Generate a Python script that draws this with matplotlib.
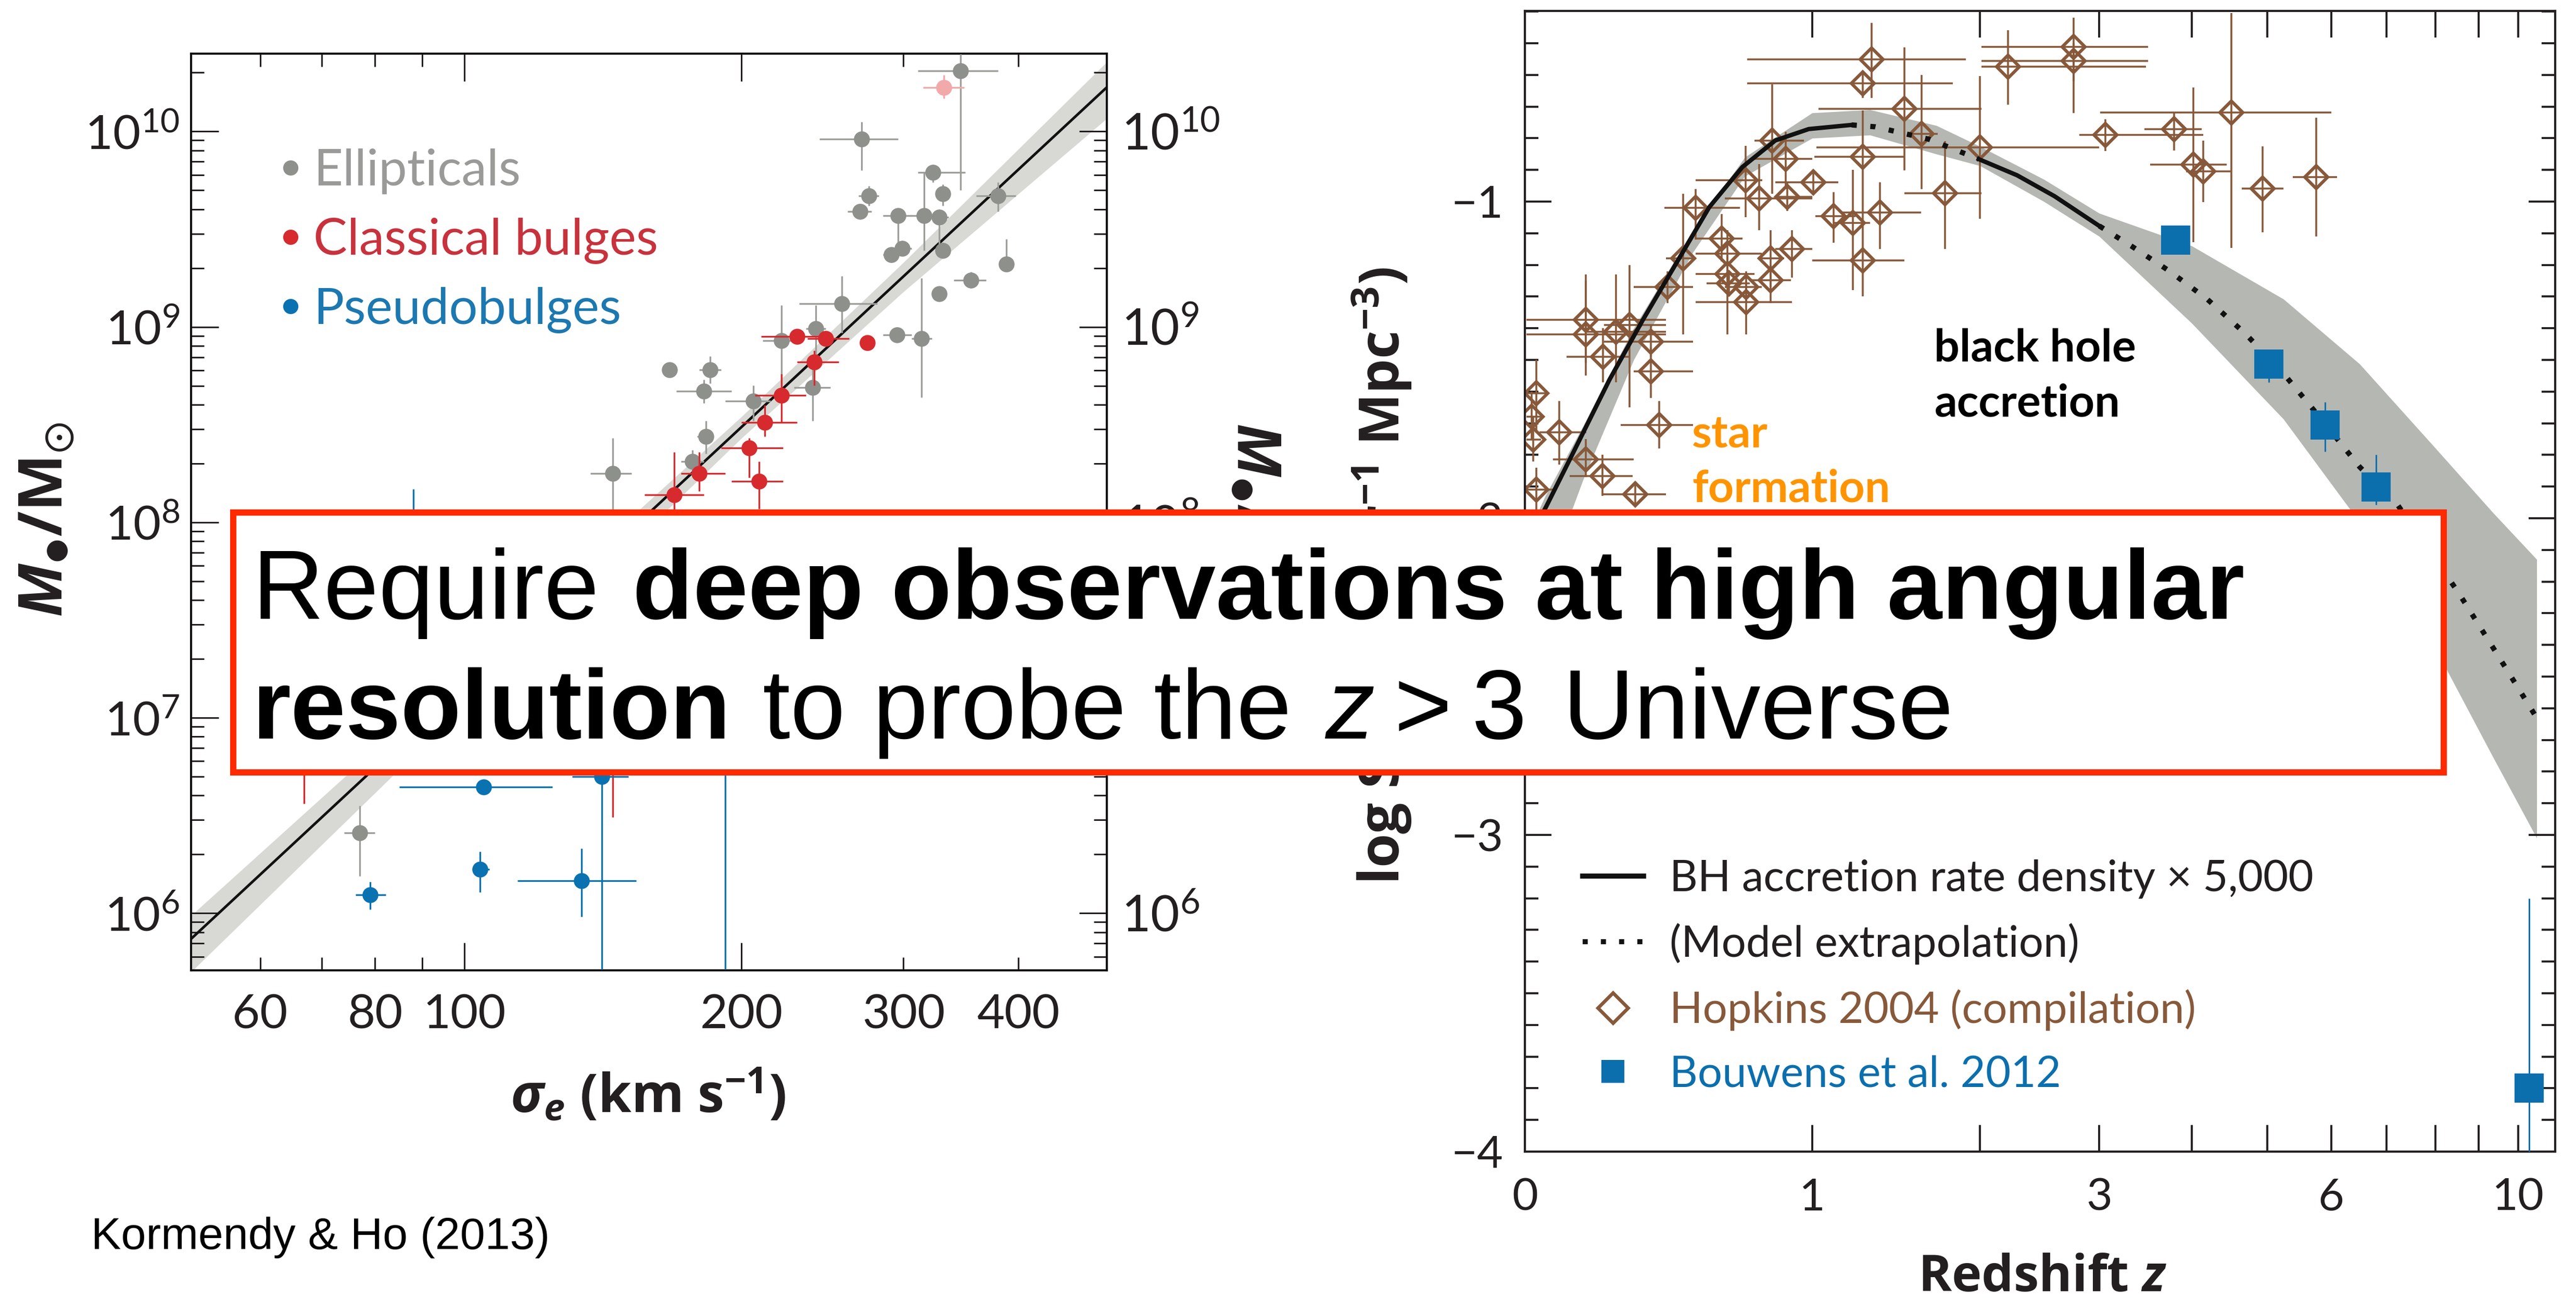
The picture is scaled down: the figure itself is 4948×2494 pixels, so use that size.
#!/usr/bin/env python
import numpy as np
import matplotlib
matplotlib.use('Agg')
import matplotlib.pyplot as plt
from matplotlib.lines import Line2D
from matplotlib.patches import Rectangle
from matplotlib.ticker import LogLocator, MultipleLocator, NullFormatter

plt.rcParams['font.family'] = ['Lato', 'DejaVu Sans']
plt.rcParams['mathtext.fontset'] = 'custom'
plt.rcParams['mathtext.rm'] = 'Lato'
plt.rcParams['mathtext.it'] = 'Lato:italic'
plt.rcParams['mathtext.bf'] = 'Open Sans:bold'
plt.rcParams['mathtext.bfit'] = 'Open Sans:italic:bold'
plt.rcParams['mathtext.fallback'] = 'stix'

# ---------------- left panel: M_BH vs sigma_e (Kormendy & Ho 2013) ----------------
ell_sigma = [346, 270, 323, 275, 331, 269, 296, 316, 328, 380,
             299, 291, 331, 388, 355, 328, 295, 314, 257, 241,
             221, 167, 185, 182, 239, 206, 183, 177, 145, 77]
ell_logm = [10.31, 9.96, 9.79, 9.67, 9.68, 9.59, 9.57, 9.57, 9.56, 9.67,
            9.40, 9.37, 9.39, 9.32, 9.24, 9.17, 8.96, 8.94, 9.12, 8.99,
            8.93, 8.78, 8.78, 8.67, 8.69, 8.62, 8.44, 8.31, 8.25, 6.41]
ell_sig_lo = [311, 243, 311, 268, 326, 261, 285, 305, 320, 360,
              292, 285, 325, 382, 340, 322, 285, 306, 231, 235,
              211, 167, 180, 170, 228, 192, 179, 172, 137, 74]
ell_sig_hi = [380, 296, 350, 282, 336, 277, 306, 326, 336, 397,
              306, 297, 336, 394, 369, 334, 306, 322, 281, 247,
              232, 167, 190, 195, 250, 215, 186, 182, 152, 80]
ell_logm_lo = [9.70, 9.80, 9.74, 9.62, 9.62, 9.56, 9.40, 9.39, 9.40, 9.59,
               9.37, 9.33, 9.36, 9.29, 9.20, 9.14, 8.93, 8.64, 8.97, 8.84,
               8.70, 8.78, 8.71, 8.61, 8.52, 8.52, 8.35, 8.25, 8.00, 6.19]
ell_logm_hi = [10.40, 10.05, 9.83, 9.72, 9.73, 9.62, 9.60, 9.79, 9.60, 9.74,
               9.44, 9.40, 9.43, 9.45, 9.28, 9.20, 9.00, 9.25, 9.26, 9.11,
               9.11, 8.78, 8.85, 8.73, 8.80, 8.70, 8.52, 8.37, 8.43, 6.55]

pink_sigma = [332]
pink_logm = [10.225]
pink_sig_lo = [315]
pink_sig_hi = [349]
pink_logm_lo = [10.17]
pink_logm_hi = [10.29]

cb_sigma = [230, 247, 274, 240, 221, 212, 204, 209, 180, 169, 67, 145]
cb_logm = [8.95, 8.94, 8.92, 8.82, 8.65, 8.51, 8.38, 8.21, 8.25, 8.14, 7.10, 7.00]
cb_sig_lo = [210, 236, 274, 230, 207, 200, 190, 195, 172, 157, 64, 139]
cb_sig_hi = [247, 262, 274, 255, 235, 230, 222, 222, 192, 182, 70, 151]
cb_logm_lo = [8.93, 8.91, 8.92, 8.70, 8.51, 8.44, 8.23, 8.07, 8.16, 8.05, 6.56, 6.49]
cb_logm_hi = [8.98, 8.97, 8.92, 8.88, 8.76, 8.60, 8.43, 8.31, 8.36, 8.36, 7.50, 7.40]

pb_sigma = [105, 141, 79, 104, 134, 88, 192]
pb_logm = [6.645, 6.70, 6.095, 6.225, 6.165, 7.40, 7.10]
pb_sig_lo = [85, 131, 76.2, 102, 114.3, 86, 186]
pb_sig_hi = [124.6, 150.7, 82.2, 106.5, 153.8, 90, 198]
pb_logm_lo = [6.62, 5.60, 6.02, 6.107, 5.983, 7.20, 5.60]
pb_logm_hi = [6.67, 7.00, 6.16, 6.316, 6.332, 8.17, 7.30]

fit_sigma = [50, 500]
fit_logm = [5.85, 10.23]
fitband_sigma = [50, 100, 200, 300, 500]
fitband_lo = [5.68, 7.06, 8.43, 9.18, 10.07]
fitband_hi = [5.97, 7.25, 8.54, 9.33, 10.36]

# ---------------- right panel: star formation / BH accretion history ----------------
hop_z = [1.31, 1.26, 2.21, 1.50, 0.816, 1.605, 2.00, 1.26, 0.876, 0.883,
         0.703, 0.759, 1.005, 0.51, 1.107, 1.207, 1.357, 1.755, 1.26, 0.607,
         0.630, 0.630, 0.636, 0.706, 0.706, 0.809, 0.809, 0.905, 0.465, 0.411,
         0.355, 0.355, 0.383, 0.287, 0.246, 0.158, 0.158, 0.207, 0.028, 0.016,
         0.020, 0.086, 0.158, 0.205, 0.305, 0.028, 2.76, 2.76, 3.06, 3.79,
         4.50, 4.02, 4.14, 4.93, 5.75]
hop_v = [-0.551, -0.627, -0.574, -0.708, -0.808, -0.787, -0.829, -0.858, -0.866, -0.986,
         -0.932, -0.991, -0.939, -1.020, -1.046, -1.067, -1.034, -0.974, -1.186, -1.117,
         -1.165, -1.228, -1.259, -1.269, -1.317, -1.180, -1.249, -1.149, -1.180, -1.269,
         -1.443, -1.537, -1.705, -1.390, -1.411, -1.374, -1.420, -1.490, -1.605, -1.679,
         -1.752, -1.729, -1.815, -1.867, -1.925, -1.909, -0.511, -0.556, -0.790, -0.772,
         -0.718, -0.884, -0.905, -0.959, -0.923]
hop_z_lo = [0.71, 0.71, 2.01, 1.03, 0.74, 1.52, 1.02, 1.01, 0.74, 0.83,
            0.51, 0.62, 0.83, 0.40, 1.016, 1.107, 1.15, 1.50, 1.00, 0.51,
            0.51, 0.51, 0.55, 0.62, 0.51, 0.76, 0.72, 0.83, 0.405, 0.30,
            0.21, 0.30, 0.26, 0.21, 0.16, 0.004, 0.004, 0.105, 0.004, 0.004,
            0.004, 0.036, 0.070, 0.114, 0.207, 0.004, 2.01, 2.01, 2.81, 3.46,
            3.01, 3.52, 3.93, 4.64, 5.38]
hop_z_hi = [1.90, 1.81, 3.48, 2.01, 0.96, 1.71, 3.00, 1.50, 1.00, 1.00,
            0.773, 1.00, 1.13, 0.68, 1.22, 1.30, 1.60, 2.01, 1.50, 0.69,
            0.77, 0.74, 0.72, 0.77, 0.905, 0.87, 0.90, 1.00, 0.51, 0.50,
            0.50, 0.50, 0.50, 0.405, 0.405, 0.405, 0.405, 0.287, 0.053, 0.040,
            0.040, 0.159, 0.300, 0.297, 0.405, 0.070, 3.50, 3.50, 4.14, 4.12,
            6.00, 4.44, 4.51, 5.24, 6.10]
hop_v_lo = [-0.672, -0.672, -0.694, -0.902, -0.975, -0.960, -1.054, -1.039, -0.960, -1.030,
            -1.050, -1.091, -0.970, -1.120, -1.130, -1.280, -1.150, -1.150, -1.300, -1.190,
            -1.250, -1.420, -1.300, -1.320, -1.420, -1.270, -1.320, -1.240, -1.420, -1.320,
            -1.490, -1.620, -1.780, -1.650, -1.570, -1.510, -1.550, -1.570, -1.730, -1.750,
            -1.820, -1.830, -1.870, -1.930, -1.960, -1.980, -0.720, -0.620, -0.840, -0.839,
            -1.146, -1.128, -1.001, -1.097, -1.110]
hop_v_hi = [-0.436, -0.590, -0.459, -0.514, -0.630, -0.600, -0.604, -0.713, -0.780, -0.940,
            -0.824, -0.881, -0.900, -0.960, -0.970, -0.900, -0.940, -0.810, -1.040, -1.040,
            -1.090, -1.170, -1.220, -1.220, -1.250, -1.090, -1.200, -1.090, -0.976, -1.220,
            -1.390, -1.460, -1.630, -1.200, -1.230, -1.230, -1.250, -1.400, -1.500, -1.600,
            -1.680, -1.630, -1.750, -1.800, -1.890, -1.840, -0.420, -0.500, -0.740, -0.718,
            -0.405, -0.640, -0.808, -0.826, -0.736]

bou_z = [3.81, 5.02, 5.90, 6.80, 10.29]
bou_v = [-1.122, -1.513, -1.706, -1.902, -3.80]
bou_v_lo = [-1.15, -1.57, -1.79, -1.958, -4.10]
bou_v_hi = [-1.09, -1.47, -1.633, -1.80, -3.20]

# BH accretion rate density x 5000 (solid where measured, dotted = model)
bh_z_a = [0.0, 0.053, 0.132, 0.226, 0.329, 0.44, 0.56, 0.69, 0.83, 0.984, 1.2]
bh_v_a = [-2.09, -1.962, -1.773, -1.563, -1.374, -1.196, -1.018, -0.891, -0.807, -0.771, -0.758]
bh_z_b = [1.2, 1.33, 1.65, 1.99]
bh_v_b = [-0.758, -0.764, -0.803, -0.866]
bh_z_c = [1.99, 2.28, 2.59, 3.0]
bh_v_c = [-0.866, -0.917, -0.983, -1.077]
bh_z_d = [3.0, 3.32, 3.73, 4.19, 4.69, 5.24, 5.84, 6.5, 7.22, 8.52, 9.45, 10.47]
bh_v_d = [-1.077, -1.140, -1.218, -1.308, -1.417, -1.543, -1.688, -1.838, -1.958, -2.235, -2.429, -2.625]

# star formation band
band_z = [0.0, 0.05, 0.15, 0.3, 0.5, 0.7, 1.0, 1.3, 1.7, 2.0, 2.5, 3.0, 4.0, 5.24, 6.5, 8.0, 9.35, 10.5]
band_hi = [-2.07, -1.93, -1.71, -1.40, -1.09, -0.86, -0.72, -0.71, -0.76, -0.826, -0.93, -1.037,
           -1.14, -1.308, -1.513, -1.778, -1.983, -2.13]
band_lo = [-2.45, -2.20, -1.88, -1.50, -1.16, -0.92, -0.80, -0.79, -0.85, -0.887, -1.00, -1.11,
           -1.384, -1.687, -2.013, -2.41, -2.755, -3.01]

ink = '#231f20'
gray = '#8e908b'
red = '#d62a2f'
blue = '#0a72b0'
brown = '#87593a'
sq_blue = '#0b6fae'


def mbh_points(ax, sig, logm, slo, shi, mlo, mhi, color, ecolor, z):
    sig = np.array(sig, float)
    m = 10.0 ** np.array(logm)
    xerr = [sig - np.array(slo), np.array(shi) - sig]
    yerr = [m - 10.0 ** np.array(mlo), 10.0 ** np.array(mhi) - m]
    ax.errorbar(sig, m, xerr=xerr, yerr=yerr, fmt='o', ms=11, color=color, mew=0,
                ecolor=ecolor, elinewidth=1.2, capsize=0, zorder=z)


def z_fwd(z):
    return np.log10(np.clip(1.0 + np.asarray(z, float), 1e-6, None))


def z_inv(u):
    return 10.0 ** np.asarray(u, float) - 1.0


fig = plt.figure(figsize=(24.74, 12.47), dpi=200)

# ---- left panel ----
ax1 = fig.add_axes([0.0742, 0.2530, 0.3555, 0.7057])
ax1.set_xscale('log')
ax1.set_yscale('log')
ax1.fill_between(fitband_sigma, 10.0 ** np.array(fitband_lo), 10.0 ** np.array(fitband_hi),
                 color='#d8d9d4', lw=0, zorder=1)
ax1.plot(fit_sigma, 10.0 ** np.array(fit_logm), color='#111111', lw=1.8, zorder=2)
mbh_points(ax1, ell_sigma, ell_logm, ell_sig_lo, ell_sig_hi, ell_logm_lo, ell_logm_hi,
           gray, '#9c9e9a', 3)
mbh_points(ax1, pink_sigma, pink_logm, pink_sig_lo, pink_sig_hi, pink_logm_lo, pink_logm_hi,
           '#f2a9aa', '#f2a9aa', 3)
mbh_points(ax1, cb_sigma, cb_logm, cb_sig_lo, cb_sig_hi, cb_logm_lo, cb_logm_hi, red, red, 4)
mbh_points(ax1, pb_sigma, pb_logm, pb_sig_lo, pb_sig_hi, pb_logm_lo, pb_logm_hi, blue, blue, 5)
ax1.set_xlim(50.5, 499)
ax1.set_ylim(5.1e5, 2.5e10)

ax1.set_xticks([100, 200], labels=['100', '200'])
ax1.set_xticks([60, 70, 80, 90, 300, 400], labels=['60', '', '80', '', '300', '400'], minor=True)
ax1.yaxis.set_major_locator(LogLocator(base=10, numticks=20))
ax1.yaxis.set_minor_locator(LogLocator(base=10, subs=np.arange(2, 10), numticks=20))
ax1.yaxis.set_minor_formatter(NullFormatter())
ax1.tick_params(which='both', direction='in', top=True, right=False, width=1.1, color=ink,
                labelcolor=ink, labelsize=33)
ax1.tick_params(which='major', length=19)
ax1.tick_params(which='minor', length=9)
ax1.tick_params(axis='x', which='both', pad=16)
ax1.tick_params(axis='y', which='both', pad=8)
for s in ax1.spines.values():
    s.set_linewidth(1.5)
    s.set_color(ink)

axr = ax1.twinx()
axr.set_yscale('log')
axr.set_ylim(ax1.get_ylim())
axr.yaxis.set_major_locator(LogLocator(base=10, numticks=20))
axr.yaxis.set_minor_locator(LogLocator(base=10, subs=np.arange(2, 10), numticks=20))
axr.yaxis.set_minor_formatter(NullFormatter())
axr.tick_params(which='both', direction='in', width=1.1, color=ink, labelcolor=ink,
                labelsize=34.5, pad=10)
axr.tick_params(which='major', length=19)
axr.tick_params(which='minor', length=9)

mlabel = '$\\mathbfit{M}_{\u25CF}\\mathbf{/M}_{\\odot}$'
ax1.text(-0.1575, 0.4915, mlabel, rotation=90, ha='center', va='center', fontsize=42,
         transform=ax1.transAxes, color=ink)
ax1.text(1.159, 0.4915, mlabel, rotation=-90, ha='center', va='center', fontsize=42,
         transform=ax1.transAxes, color=ink)
ax1.text(0.499, -0.108, r'$\mathbfit{\sigma}_{\mathbfit{e}}$ (km s$^{\mathbf{-1}}$)',
         ha='center', va='top', fontsize=37, fontweight='bold', family='Open Sans',
         transform=ax1.transAxes, color=ink)

leg1_handles = [Line2D([], [], ls='none', marker='o', ms=10.5, mew=0, color=c)
                for c in (gray, red, blue)]
ax1.legend(leg1_handles, ['Ellipticals', 'Classical bulges', 'Pseudobulges'],
           loc='upper left', bbox_to_anchor=(0.0921, 0.8966), frameon=False,
           prop={'family': 'Lato', 'size': 35}, handlelength=0.6, handletextpad=0.15,
           labelspacing=0.46, borderpad=0, borderaxespad=0,
           labelcolor=['#9a9b98', '#c8323c', '#1c78b0'])

# ---- right panel ----
ax2 = fig.add_axes([0.5920, 0.1135, 0.4000, 0.8781])
ax2.set_xscale('function', functions=(z_fwd, z_inv))
ax2.fill_between(band_z, band_lo, band_hi, color='#b5b7b2', lw=0, zorder=1)

hz = np.array(hop_z)
hv = np.array(hop_v)
ax2.errorbar(hz, hv, xerr=[hz - np.array(hop_z_lo), np.array(hop_z_hi) - hz],
             yerr=[hv - np.array(hop_v_lo), np.array(hop_v_hi) - hv],
             fmt='D', ms=11, mfc='none', mec=brown, mew=2.2, ecolor=brown,
             elinewidth=1.3, capsize=0, zorder=2)

ax2.plot(bh_z_a, bh_v_a, color='#111111', lw=3.0, zorder=3)
ax2.plot(bh_z_b, bh_v_b, color='#111111', lw=3.6, ls=(0, (1, 2.6)), zorder=3)
ax2.plot(bh_z_c, bh_v_c, color='#111111', lw=3.0, zorder=3)
ax2.plot(bh_z_d, bh_v_d, color='#111111', lw=3.6, ls=(0, (1, 2.6)), zorder=3)

bz = np.array(bou_z)
bv = np.array(bou_v)
ax2.errorbar(bz, bv, yerr=[bv - np.array(bou_v_lo), np.array(bou_v_hi) - bv], fmt='s',
             ms=20, color=sq_blue, mew=0, elinewidth=1.1, capsize=0, zorder=4)

ax2.set_xlim(0, 11.03)
ax2.set_ylim(-4, -0.398)
ax2.set_xticks(range(0, 11), labels=['0', '1', '', '3', '', '', '6', '', '', '', '10'])
ax2.set_yticks([-4, -3, -2, -1])
ax2.yaxis.set_minor_locator(MultipleLocator(0.1))
ax2.tick_params(which='both', direction='in', top=True, right=True, width=1.4, color=ink,
                labelcolor=ink, labelsize=31)
ax2.tick_params(which='major', length=18.5)
ax2.tick_params(which='minor', length=9.4)
ax2.tick_params(axis='x', pad=18)
ax2.tick_params(axis='y', pad=15)
for s in ax2.spines.values():
    s.set_linewidth(1.5)
    s.set_color(ink)

ax2.text(-0.1385, 0.505, r'log SFR (M$_{\odot}$ yr$^{\mathbf{-1}}$ Mpc$^{\mathbf{-3}}$)',
         rotation=90, ha='center', va='center', fontsize=38, fontweight='bold',
         family='Open Sans', transform=ax2.transAxes, color=ink)
ax2.text(0.502, -0.0886, r'Redshift $\mathbfit{z}$', ha='center', va='top', fontsize=35,
         fontweight='bold', family='Open Sans', transform=ax2.transAxes, color=ink)

ax2.text(1.686, -1.505, 'black hole', fontsize=31, fontweight='bold', color='black',
         va='baseline', ha='left', zorder=5)
ax2.text(1.686, -1.678, 'accretion', fontsize=31, fontweight='bold', color='black',
         va='baseline', ha='left', zorder=5)
ax2.text(0.497, -1.776, 'star', fontsize=31, fontweight='bold', color='#ff9400',
         va='baseline', ha='left', zorder=5)
ax2.text(0.497, -1.949, 'formation', fontsize=31, fontweight='bold', color='#ff9400',
         va='baseline', ha='left', zorder=5)

leg2_handles = [Line2D([], [], color='#111111', lw=3.5),
                Line2D([], [], color='#111111', lw=3.5, ls=(0, (1, 2.6))),
                Line2D([], [], ls='none', marker='D', ms=15, mfc='none', mec=brown, mew=2.4),
                Line2D([], [], ls='none', marker='s', ms=16, color=sq_blue, mew=0)]
ax2.legend(leg2_handles, ['BH accretion rate density \u00d7 5,000', '(Model extrapolation)',
                          'Hopkins 2004 (compilation)', 'Bouwens et al. 2012'],
           loc='lower left', bbox_to_anchor=(0.056, 0.050), frameon=False,
           prop={'family': 'Lato', 'size': 30}, handlelength=1.4, handletextpad=0.6,
           labelspacing=0.56, borderpad=0, borderaxespad=0,
           labelcolor=[ink, ink, brown, sq_blue])

# ---- overlay box with message ----
fig.add_artist(Rectangle((0.09054, 0.40537), 0.85812, 0.20008, transform=fig.transFigure,
                         facecolor='white', edgecolor='#ff2a00', linewidth=4.3, zorder=10))

renderer = fig.canvas.get_renderer()
W, H = fig.bbox.width, fig.bbox.height


def put_runs(x_px, y_px, runs, size):
    x = x_px
    for txt, weight, style, gap in runs:
        t = fig.text(x / W, 1 - y_px / H, txt, fontsize=size, fontweight=weight,
                     fontstyle=style, family='Liberation Sans', va='baseline', ha='left',
                     color='black', zorder=12)
        x += t.get_window_extent(renderer).width + gap


put_runs(484, 1188, [('Require', 'normal', 'normal', 64),
                     ('deep observations at high angular', 'bold', 'normal', 0)], 68.5)
put_runs(484, 1418, [('resolution', 'bold', 'normal', 62),
                     ('to probe the', 'normal', 'normal', 64),
                     ('z', 'normal', 'italic', 38),
                     ('>', 'normal', 'normal', 38),
                     ('3', 'normal', 'normal', 69),
                     ('Universe', 'normal', 'normal', 0)], 68.5)

fig.text(175 / W, 1 - 2398 / H, 'Kormendy & Ho (2013)', family='Liberation Sans',
         fontsize=31, va='baseline', ha='left', color='black')

fig.savefig('out.png', dpi=200)
